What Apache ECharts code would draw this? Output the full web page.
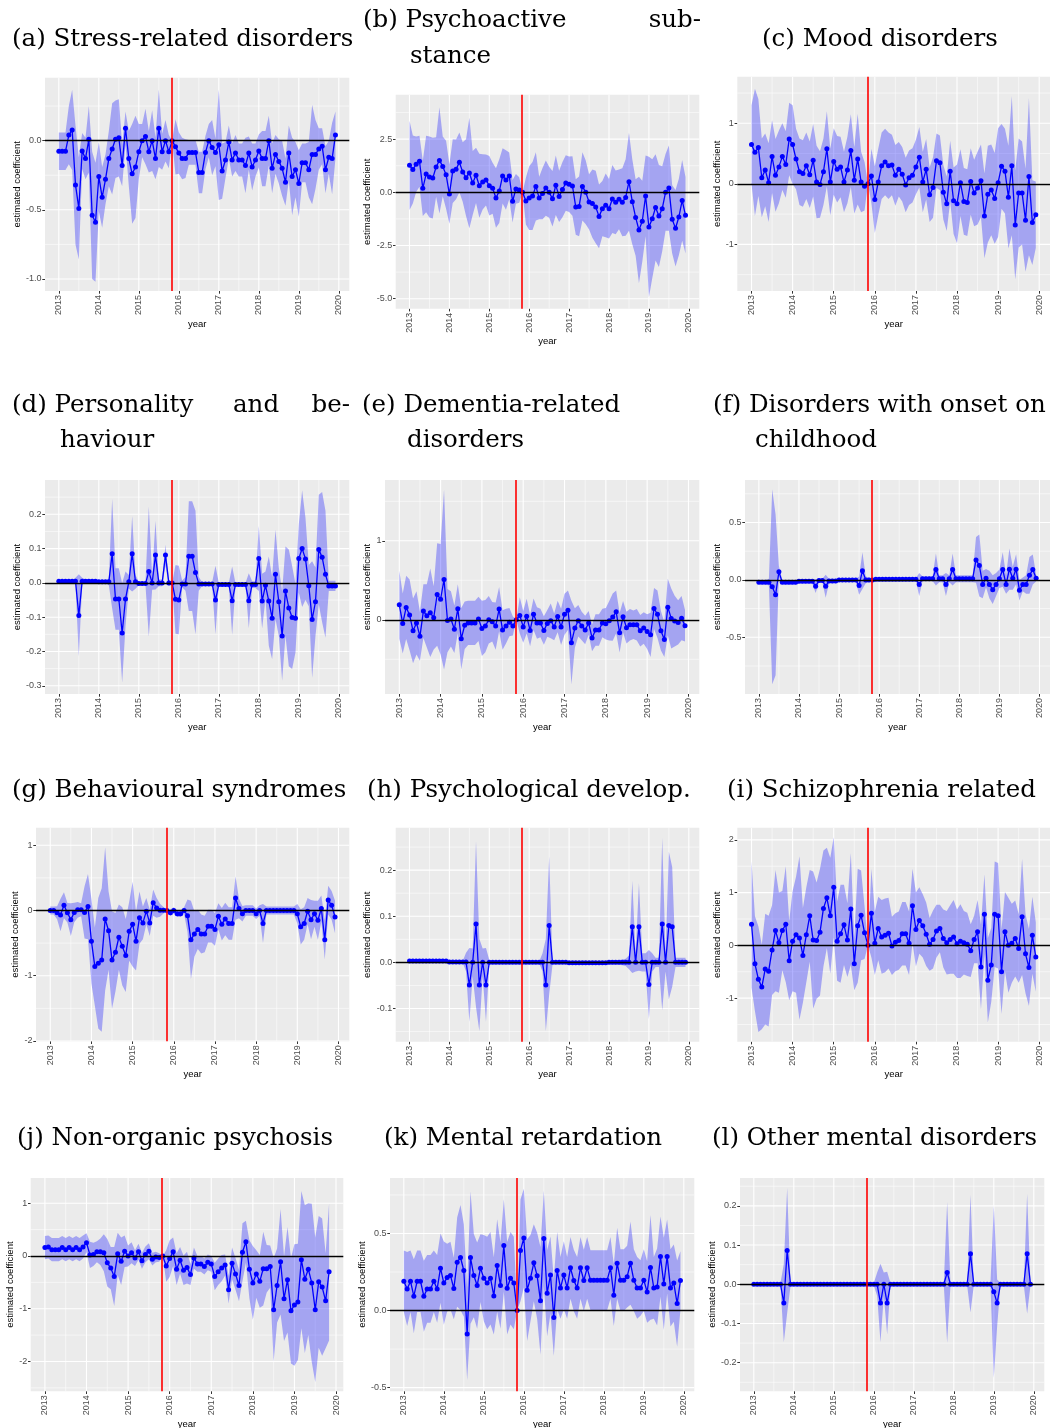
<!DOCTYPE html>
<html>
<head>
<meta charset="utf-8">
<script src="https://cdn.jsdelivr.net/npm/echarts@6/dist/echarts.min.js"></script>
<style>
  html, body { margin: 0; padding: 0; background: #ffffff; }
  #chart { width: 1059px; height: 1428px; }
</style>
</head>
<body>
<div id="chart"></div>
<script>
// ---- shared time axis ----
const startYear = 2013;                 // first monthly estimate (Jan 2013)
const yearTicks = [2013, 2014, 2015, 2016, 2017, 2018, 2019, 2020];
const yearLabels = ['2013', '2014', '2015', '2016', '2017', '2018', '2019', '2020'];
const breakDate = 2015.82;              // reform date (red line)

// ---- (a) Stress-related disorders ----
const stressEst = [
  -0.077, -0.077, -0.077, 0.04, 0.077, -0.32, -0.49, -0.075, -0.13, 0.01, -0.54, -0.59,
  -0.26, -0.41, -0.28, -0.13, -0.06, 0.01, 0.02, -0.18, 0.09, -0.13, -0.24, -0.19,
  -0.08, 0.0, 0.03, -0.08, 0.0, -0.13, 0.09, -0.08, 0.0, -0.08, 0.0, -0.045,
  -0.09, -0.13, -0.13, -0.085, -0.085, -0.085, -0.23, -0.23, -0.085, 0.0, -0.05, -0.085,
  -0.03, -0.22, -0.14, -0.01, -0.14, -0.09, -0.14, -0.14, -0.18, -0.09, -0.19, -0.14,
  -0.075, -0.13, -0.13, 0.0, -0.2, -0.1, -0.15, -0.2, -0.3, -0.09, -0.26, -0.21,
  -0.31, -0.16, -0.16, -0.21, -0.1, -0.1, -0.06, -0.04, -0.21, -0.12, -0.13, 0.04];
const stressMargin = [
  0.135, 0.135, 0.135, 0.21, 0.29, 0.43, 0.37, 0.13, 0.15, 0.24, 0.46, 0.43,
  0.25, 0.22, 0.18, 0.2, 0.33, 0.28, 0.28, 0.15, 0.12, 0.2, 0.36, 0.37,
  0.2, 0.12, 0.2, 0.15, 0.22, 0.15, 0.28, 0.13, 0.15, 0.12, 0.0, 0.2,
  0.15, 0.15, 0.14, 0.09, 0.09, 0.09, 0.15, 0.15, 0.12, 0.12, 0.2, 0.1,
  0.4, 0.2, 0.13, 0.12, 0.12, 0.13, 0.12, 0.12, 0.2, 0.12, 0.17, 0.12,
  0.12, 0.2, 0.2, 0.18, 0.18, 0.14, 0.16, 0.2, 0.17, 0.2, 0.28, 0.2,
  0.24, 0.14, 0.14, 0.2, 0.36, 0.25, 0.15, 0.13, 0.17, 0.12, 0.26, 0.17];
const stressTicks = ['-1.0', '-0.5', '0.0'];

// ---- (b) Psychoactive substance ----
const substanceEst = [
  1.27, 1.07, 1.32, 1.46, 0.19, 0.86, 0.72, 0.67, 1.19, 1.5, 1.22, 0.83,
  -0.08, 1.0, 1.08, 1.41, 0.96, 0.69, 0.91, 0.44, 0.8, 0.31, 0.49, 0.58,
  0.31, 0.19, -0.27, 0.06, 0.77, 0.58, 0.77, -0.42, 0.16, 0.11, 0.0, -0.41,
  -0.27, -0.17, 0.28, -0.27, -0.06, 0.2, 0.0, -0.3, 0.33, -0.19, 0.13, 0.44,
  0.38, 0.3, -0.69, -0.66, 0.28, 0.0, -0.45, -0.53, -0.69, -1.13, -0.77, -0.61,
  -0.77, -0.31, -0.47, -0.33, -0.47, -0.24, 0.5, -0.44, -1.18, -1.77, -1.36, -0.17,
  -1.63, -1.24, -0.71, -1.11, -0.77, 0.0, 0.2, -1.27, -1.69, -1.16, -0.38, -1.08];
const substanceMargin = [
  2.1, 1.6, 1.3, 1.2, 1.3, 1.8, 1.9, 1.9, 1.4, 2.5, 1.4, 1.6,
  1.4, 1.5, 1.4, 1.4, 1.4, 1.8, 2.6, 1.5, 1.3, 1.5, 1.3, 1.2,
  1.4, 1.2, 1.4, 1.5, 1.3, 1.4, 1.1, 1.0, 0.7, 0.6, 0.0, 1.1,
  1.5, 1.6, 1.6, 1.0, 1.2, 1.3, 1.2, 1.3, 1.4, 1.2, 1.3, 1.3,
  1.3, 1.4, 1.3, 1.4, 1.6, 1.5, 1.3, 1.6, 1.7, 1.5, 1.3, 1.5,
  1.4, 1.6, 1.5, 1.4, 1.6, 1.8, 2.3, 2.0, 1.8, 2.5, 1.9, 1.9,
  3.3, 2.8, 2.5, 2.4, 2.0, 1.8, 2.0, 1.6, 1.8, 1.8, 1.9, 1.8];
const substanceTicks = ['-5.0', '-2.5', '0.0', '2.5'];

// ---- (c) Mood disorders ----
const moodEst = [
  0.65, 0.52, 0.6, 0.1, 0.23, 0.02, 0.45, 0.14, 0.28, 0.45, 0.32, 0.74,
  0.65, 0.41, 0.2, 0.17, 0.3, 0.15, 0.39, 0.03, -0.01, 0.2, 0.58, 0.03,
  0.37, 0.24, 0.28, 0.03, 0.23, 0.55, 0.06, 0.41, 0.03, -0.04, 0.0, 0.13,
  -0.26, 0.03, 0.3, 0.36, 0.3, 0.31, 0.14, 0.24, 0.16, -0.02, 0.1, 0.14,
  0.28, 0.44, 0.03, 0.24, -0.18, -0.06, 0.38, 0.35, -0.14, -0.33, 0.21, -0.28,
  -0.33, 0.02, -0.29, -0.31, 0.04, -0.15, -0.07, 0.05, -0.53, -0.17, -0.1, -0.24,
  0.02, 0.29, 0.21, -0.22, 0.3, -0.68, -0.15, -0.15, -0.6, 0.12, -0.64, -0.51];
const moodMargin = [
  0.65, 1.05, 0.8, 0.65, 0.6, 0.65, 0.6, 0.6, 0.6, 0.55, 0.55, 0.6,
  0.65, 0.5, 0.55, 0.55, 0.55, 0.55, 0.6, 0.6, 0.55, 0.55, 0.62, 0.55,
  0.55, 0.55, 0.5, 0.5, 0.55, 0.6, 0.55, 0.75, 0.5, 0.4, 0.0, 0.45,
  0.55, 0.55, 0.55, 0.55, 0.55, 0.5, 0.5, 0.45, 0.45, 0.45, 0.45, 0.45,
  0.45, 0.5, 0.5, 0.5, 0.45, 0.5, 0.45, 0.45, 0.45, 0.45, 0.5, 0.55,
  0.65, 0.55, 0.55, 0.55, 0.55, 0.55, 0.6, 0.6, 0.7, 0.8, 0.75, 0.75,
  0.9, 0.7, 0.7, 0.85, 1.15, 0.9, 0.9, 0.85, 0.85, 1.3, 0.7, 0.55];
const moodTicks = ['-1', '0', '1'];

// ---- (d) Personality and behaviour ----
const personalityEst = [
  0.005, 0.005, 0.005, 0.005, 0.005, 0.005, -0.095, 0.005, 0.005, 0.005, 0.005, 0.005,
  0.003, 0.003, 0.003, 0.003, 0.085, -0.047, -0.047, -0.146, -0.047, 0.003, 0.085, 0.003,
  -0.002, -0.002, -0.002, 0.033, 0.0, 0.081, 0.0, 0.0, 0.081, 0.0, 0.0, -0.048,
  -0.05, -0.003, -0.003, 0.078, 0.078, 0.03, -0.003, -0.003, -0.003, -0.003, -0.003, -0.05,
  -0.005, -0.005, -0.005, -0.005, -0.052, -0.005, -0.005, -0.005, -0.005, -0.052, -0.005, -0.005,
  0.071, -0.053, -0.007, -0.053, -0.103, 0.025, -0.055, -0.155, -0.024, -0.073, -0.101, -0.103,
  0.071, 0.1, 0.07, -0.008, -0.107, -0.055, 0.097, 0.075, 0.025, -0.009, -0.009, -0.009];
const personalityMargin = [
  0.003, 0.003, 0.003, 0.003, 0.003, 0.01, 0.12, 0.01, 0.005, 0.005, 0.005, 0.005,
  0.003, 0.003, 0.003, 0.01, 0.16, 0.09, 0.09, 0.145, 0.08, 0.02, 0.11, 0.02,
  0.005, 0.005, 0.005, 0.19, 0.02, 0.1, 0.01, 0.01, 0.03, 0.01, 0.0, 0.1,
  0.1, 0.01, 0.02, 0.16, 0.16, 0.18, 0.02, 0.005, 0.005, 0.005, 0.005, 0.1,
  0.005, 0.005, 0.005, 0.005, 0.1, 0.005, 0.005, 0.005, 0.005, 0.08, 0.01, 0.01,
  0.095, 0.08, 0.04, 0.13, 0.12, 0.13, 0.1, 0.13, 0.13, 0.17, 0.15, 0.1,
  0.1, 0.17, 0.12, 0.06, 0.17, 0.1, 0.16, 0.19, 0.185, 0.015, 0.015, 0.015];
const personalityTicks = ['-0.3', '-0.2', '-0.1', '0.0', '0.1', '0.2'];

// ---- (e) Dementia-related disorders ----
const dementiaEst = [
  0.19, -0.046, 0.156, 0.06, -0.14, -0.04, -0.21, 0.11, 0.05, 0.09, 0.025, 0.32,
  0.26, 0.51, -0.01, 0.01, -0.12, 0.14, -0.24, -0.07, -0.04, -0.04, -0.04, 0.01,
  -0.11, -0.08, 0.0, -0.025, -0.08, 0.135, -0.13, -0.08, -0.03, -0.08, 0.0, 0.055,
  -0.09, 0.046, -0.135, 0.07, -0.04, -0.04, -0.135, -0.046, -0.013, -0.09, 0.042, -0.09,
  0.07, 0.12, -0.29, -0.105, -0.013, -0.08, -0.13, -0.04, -0.23, -0.13, -0.13, -0.04,
  -0.05, -0.013, 0.034, 0.1, -0.165, 0.038, -0.1, -0.063, -0.063, -0.063, -0.14, -0.105,
  -0.15, -0.19, 0.143, 0.07, -0.14, -0.25, 0.16, 0.017, -0.017, -0.034, 0.02, -0.076];
const dementiaMargin = [
  0.43, 0.38, 0.4, 0.45, 0.41, 0.4, 0.31, 0.34, 0.4, 0.56, 0.4, 0.65,
  0.7, 1.14, 0.4, 0.35, 0.3, 0.31, 0.39, 0.3, 0.28, 0.28, 0.28, 0.28,
  0.35, 0.33, 0.3, 0.25, 0.3, 0.28, 0.25, 0.22, 0.18, 0.12, 0.0, 0.23,
  0.2, 0.22, 0.2, 0.2, 0.2, 0.18, 0.18, 0.17, 0.22, 0.17, 0.2, 0.23,
  0.26, 0.25, 0.53, 0.25, 0.2, 0.18, 0.18, 0.15, 0.17, 0.2, 0.2, 0.18,
  0.2, 0.25, 0.3, 0.27, 0.25, 0.2, 0.2, 0.2, 0.18, 0.2, 0.2, 0.2,
  0.22, 0.28, 0.26, 0.3, 0.25, 0.22, 0.36, 0.38, 0.32, 0.28, 0.28, 0.2];
const dementiaTicks = ['0', '1'];

// ---- (f) Disorders with onset on childhood ----
const childhoodEst = [
  -0.02, -0.02, -0.02, -0.02, -0.06, -0.13, 0.07, -0.02, -0.02, -0.02, -0.02, -0.02,
  -0.012, -0.012, -0.012, -0.012, -0.012, -0.055, -0.006, -0.006, -0.055, -0.01, -0.01, -0.01,
  -0.002, -0.002, -0.002, -0.002, -0.002, -0.002, -0.05, 0.08, 0.0, 0.0, 0.0, 0.005,
  0.005, 0.005, 0.005, 0.005, 0.005, 0.005, 0.005, 0.005, 0.005, 0.005, 0.005, 0.005,
  -0.04, 0.01, 0.01, 0.01, 0.01, 0.09, 0.01, 0.01, -0.04, 0.01, 0.09, 0.01,
  0.01, 0.01, 0.01, 0.01, 0.01, 0.174, 0.125, -0.04, 0.015, -0.04, -0.085, -0.04,
  0.01, 0.09, -0.04, 0.093, 0.015, 0.093, -0.09, -0.04, -0.04, 0.04, 0.09, 0.015];
const childhoodMargin = [
  0.02, 0.02, 0.02, 0.03, 0.85, 0.7, 0.05, 0.02, 0.02, 0.02, 0.02, 0.02,
  0.02, 0.02, 0.02, 0.02, 0.02, 0.06, 0.015, 0.015, 0.1, 0.02, 0.02, 0.02,
  0.01, 0.01, 0.01, 0.01, 0.01, 0.01, 0.08, 0.16, 0.03, 0.02, 0.0, 0.01,
  0.01, 0.01, 0.01, 0.01, 0.01, 0.01, 0.01, 0.01, 0.01, 0.01, 0.01, 0.01,
  0.1, 0.02, 0.02, 0.02, 0.02, 0.14, 0.03, 0.03, 0.1, 0.03, 0.14, 0.03,
  0.03, 0.03, 0.03, 0.03, 0.03, 0.2, 0.27, 0.12, 0.08, 0.12, 0.125, 0.1,
  0.08, 0.15, 0.08, 0.18, 0.1, 0.13, 0.09, 0.06, 0.08, 0.16, 0.13, 0.03];
const childhoodTicks = ['-0.5', '0.0', '0.5'];

// ---- (g) Behavioural syndromes ----
const behaviouralEst = [
  0.0, 0.0, -0.035, -0.07, 0.08, -0.035, -0.14, -0.03, 0.01, 0.01, -0.03, 0.06,
  -0.47, -0.86, -0.81, -0.76, -0.13, -0.31, -0.76, -0.64, -0.41, -0.55, -0.69, -0.32,
  -0.21, -0.47, -0.11, -0.19, -0.01, -0.19, 0.12, 0.04, 0.005, 0.005, 0.0, -0.035,
  0.0, -0.05, -0.05, 0.0, -0.08, -0.45, -0.36, -0.29, -0.36, -0.36, -0.24, -0.24,
  -0.29, -0.09, -0.21, -0.13, -0.2, -0.2, 0.19, 0.03, -0.05, 0.0, 0.0, 0.0,
  -0.05, 0.0, -0.2, 0.0, 0.0, 0.0, 0.0, 0.0, 0.0, 0.0, 0.0, 0.0,
  -0.05, -0.25, -0.2, -0.01, -0.14, -0.05, -0.15, 0.03, -0.45, 0.16, 0.08, -0.1];
const behaviouralMargin = [
  0.06, 0.06, 0.1, 0.25, 0.2, 0.15, 0.25, 0.15, 0.12, 0.1, 0.4, 0.5,
  0.65, 0.6, 1.0, 1.1, 1.1, 0.6, 0.75, 0.6, 0.5, 0.6, 0.56, 0.45,
  0.65, 0.45, 0.4, 0.25, 0.2, 0.2, 0.2, 0.15, 0.1, 0.05, 0.0, 0.05,
  0.05, 0.05, 0.05, 0.05, 0.25, 0.6, 0.35, 0.3, 0.3, 0.28, 0.25, 0.25,
  0.25, 0.2, 0.25, 0.25, 0.25, 0.25, 0.33, 0.15, 0.12, 0.08, 0.08, 0.08,
  0.08, 0.08, 0.3, 0.06, 0.06, 0.06, 0.06, 0.06, 0.06, 0.06, 0.06, 0.06,
  0.15, 0.27, 0.25, 0.2, 0.3, 0.2, 0.3, 0.2, 0.3, 0.22, 0.22, 0.25];
const behaviouralTicks = ['-2', '-1', '0', '1'];

// ---- (h) Psychological development ----
const developEst = [
  0.003, 0.003, 0.003, 0.003, 0.003, 0.003, 0.003, 0.003, 0.003, 0.003, 0.003, 0.003,
  0.001, 0.001, 0.001, 0.001, 0.001, 0.001, -0.049, 0.0, 0.083, -0.049, 0.0, -0.049,
  0.0, 0.0, 0.0, 0.0, 0.0, 0.0, 0.0, 0.0, 0.0, 0.0, 0.0, 0.0,
  0.0, 0.0, 0.0, 0.0, 0.0, -0.049, 0.08, 0.0, 0.0, 0.0, 0.0, 0.0,
  -0.001, -0.001, -0.001, -0.001, -0.001, -0.001, -0.001, -0.001, -0.001, -0.001, -0.001, -0.001,
  0.0, 0.0, 0.0, 0.0, 0.0, 0.0, 0.0, 0.077, 0.0, 0.077, 0.0, 0.0,
  -0.048, 0.0, 0.0, 0.0, 0.083, 0.0, 0.08, 0.077, 0.0, 0.0, 0.0, 0.0];
const developMargin = [
  0.003, 0.003, 0.003, 0.003, 0.003, 0.003, 0.003, 0.003, 0.003, 0.003, 0.003, 0.003,
  0.002, 0.002, 0.002, 0.002, 0.002, 0.02, 0.08, 0.03, 0.18, 0.1, 0.03, 0.08,
  0.005, 0.002, 0.002, 0.002, 0.002, 0.002, 0.002, 0.002, 0.002, 0.002, 0.0, 0.002,
  0.002, 0.002, 0.002, 0.002, 0.02, 0.1, 0.15, 0.005, 0.002, 0.002, 0.002, 0.002,
  0.003, 0.003, 0.003, 0.003, 0.003, 0.003, 0.003, 0.003, 0.003, 0.003, 0.003, 0.003,
  0.005, 0.005, 0.005, 0.005, 0.006, 0.008, 0.015, 0.1, 0.02, 0.095, 0.02, 0.02,
  0.075, 0.02, 0.01, 0.01, 0.187, 0.02, 0.16, 0.13, 0.01, 0.01, 0.01, 0.01];
const developTicks = ['-0.1', '0.0', '0.1', '0.2'];

// ---- (i) Schizophrenia related ----
const schizoEst = [
  0.4, -0.35, -0.64, -0.79, -0.45, -0.49, -0.09, 0.28, 0.05, 0.28, 0.4, -0.29,
  0.08, 0.2, 0.14, -0.19, 0.2, 0.56, 0.1, 0.09, 0.25, 0.7, 0.9, 0.56,
  1.1, 0.08, 0.22, 0.39, 0.1, 0.69, -0.35, 0.37, 0.57, 0.24, 0.0, 0.61,
  0.04, 0.32, 0.16, 0.19, 0.23, -0.01, 0.06, 0.09, 0.22, 0.22, 0.04, 0.75,
  0.3, 0.47, 0.37, 0.21, 0.02, 0.11, 0.27, 0.32, 0.13, 0.05, 0.11, 0.16,
  0.03, 0.08, 0.05, 0.02, -0.1, 0.11, 0.26, -0.41, 0.59, -0.66, -0.37, 0.59,
  0.56, -0.5, 0.26, 0.0, 0.04, 0.13, -0.06, 0.54, -0.16, -0.42, 0.19, -0.22];
const schizoMargin = [
  1.2, 0.9, 1.0, 0.8, 1.05, 1.05, 0.85, 1.15, 0.95, 0.75, 1.1, 0.75,
  0.95, 1.1, 1.55, 0.9, 0.9, 0.87, 1.3, 1.1, 1.2, 1.1, 0.95, 1.1,
  0.95, 0.75, 0.93, 0.76, 0.7, 1.06, 0.5, 1.08, 0.85, 0.5, 0.0, 0.84,
  0.6, 0.6, 0.7, 0.7, 0.67, 0.55, 0.55, 0.55, 0.6, 0.6, 0.6, 0.7,
  0.7, 0.63, 0.6, 0.6, 0.5, 0.55, 0.5, 0.45, 0.55, 0.6, 0.65, 0.7,
  0.65, 0.7, 0.6, 0.6, 0.5, 0.45, 0.6, 0.8, 0.76, 0.8, 0.7, 1.0,
  1.0, 0.8, 0.75, 0.9, 0.75, 0.72, 0.65, 1.1, 0.75, 0.73, 0.73, 0.66];
const schizoTicks = ['-1', '0', '1', '2'];

// ---- (j) Non-organic psychosis (series ends Nov 2019) ----
const psychosisEst = [
  0.16, 0.17, 0.12, 0.12, 0.12, 0.16, 0.12, 0.16, 0.12, 0.16, 0.12, 0.17,
  0.25, 0.02, 0.03, 0.08, 0.08, 0.06, -0.13, -0.23, -0.39, 0.04, -0.1, 0.09,
  0.0, 0.06, -0.04, 0.08, -0.09, 0.03, 0.09, -0.06, -0.02, -0.03, 0.0, -0.19,
  -0.05, 0.08, -0.25, -0.08, -0.27, -0.22, -0.35, -0.04, -0.15, -0.15, -0.2, -0.12,
  -0.15, -0.39, -0.3, -0.23, -0.17, -0.64, -0.14, -0.34, -0.56, 0.07, 0.27, -0.25,
  -0.51, -0.34, -0.48, -0.24, -0.24, -0.2, -1.02, -0.56, -0.11, -0.81, -0.45, -1.04,
  -0.93, -0.87, -0.07, -0.44, -0.25, -0.51, -1.02, -0.49, -0.59, -0.85, -0.3];
const psychosisMargin = [
  0.22, 0.22, 0.22, 0.22, 0.22, 0.22, 0.22, 0.22, 0.22, 0.22, 0.22, 0.22,
  0.18, 0.25, 0.22, 0.2, 0.25, 0.35, 0.45, 0.4, 0.56, 0.4, 0.45, 0.3,
  0.2, 0.2, 0.15, 0.15, 0.15, 0.15, 0.15, 0.12, 0.1, 0.08, 0.0, 0.3,
  0.35, 0.27, 0.3, 0.25, 0.28, 0.3, 0.2, 0.2, 0.15, 0.15, 0.15, 0.15,
  0.15, 0.26, 0.25, 0.25, 0.2, 0.26, 0.3, 0.3, 0.3, 0.55, 0.4, 0.55,
  0.7, 0.45, 0.5, 0.7, 0.45, 0.4, 0.98, 0.7, 1.0, 0.8, 1.0, 1.0,
  1.15, 1.1, 1.3, 1.4, 1.25, 1.5, 1.37, 1.25, 1.3, 0.9, 1.3];
const psychosisTicks = ['-2', '-1', '0', '1'];

// ---- (k) Mental retardation ----
const retardationEst = [
  0.19, 0.14, 0.19, 0.093, 0.19, 0.19, 0.093, 0.14, 0.14, 0.19, 0.14, 0.275,
  0.178, 0.214, 0.227, 0.143, 0.314, 0.344, 0.26, -0.152, 0.344, 0.227, 0.162, 0.275,
  0.21, 0.178, 0.21, 0.095, 0.292, 0.162, 0.422, 0.145, 0.21, 0.178, 0.0, 0.39,
  0.47, 0.132, 0.21, 0.31, 0.225, 0.063, 0.467, 0.113, 0.23, -0.045, 0.26, 0.147,
  0.23, 0.147, 0.277, 0.195, 0.147, 0.277, 0.195, 0.277, 0.197, 0.197, 0.197, 0.197,
  0.197, 0.197, 0.277, 0.1, 0.307, 0.197, 0.197, 0.22, 0.307, 0.197, 0.147, 0.147,
  0.197, 0.12, 0.28, 0.147, 0.153, 0.35, 0.173, 0.35, 0.147, 0.178, 0.045, 0.195];
const retardationMargin = [
  0.2, 0.24, 0.2, 0.24, 0.2, 0.2, 0.23, 0.22, 0.22, 0.2, 0.22, 0.225,
  0.27, 0.22, 0.22, 0.2, 0.29, 0.34, 0.3, 0.3, 0.43, 0.27, 0.28, 0.22,
  0.28, 0.3, 0.3, 0.25, 0.3, 0.28, 0.3, 0.3, 0.3, 0.3, 0.0, 0.33,
  0.32, 0.33, 0.28, 0.25, 0.28, 0.35, 0.31, 0.28, 0.25, 0.25, 0.25, 0.2,
  0.22, 0.2, 0.2, 0.2, 0.2, 0.2, 0.2, 0.2, 0.195, 0.195, 0.195, 0.195,
  0.195, 0.195, 0.2, 0.2, 0.23, 0.2, 0.2, 0.2, 0.27, 0.2, 0.2, 0.18,
  0.2, 0.2, 0.34, 0.2, 0.25, 0.26, 0.3, 0.24, 0.25, 0.25, 0.28, 0.19];
const retardationTicks = ['-0.5', '0.0', '0.5'];

// ---- (l) Other mental disorders ----
const otherEst = [
  0.0, 0.0, 0.0, 0.0, 0.0, 0.0, 0.0, 0.0, 0.0, -0.048, 0.086, 0.0,
  0.0, 0.0, 0.0, 0.0, 0.0, 0.0, 0.0, 0.0, 0.0, 0.0, 0.0, 0.0,
  0.0, 0.0, 0.0, 0.0, 0.0, 0.0, 0.0, 0.0, 0.0, 0.0, 0.0, 0.0,
  0.0, 0.0, -0.048, 0.0, -0.048, 0.0, 0.0, 0.0, 0.0, 0.0, 0.0, 0.0,
  0.0, 0.0, 0.0, 0.0, 0.0, 0.0, 0.0, 0.0, 0.0, 0.0, 0.03, 0.0,
  0.0, 0.0, 0.0, 0.0, 0.0, 0.078, 0.0, 0.0, 0.0, 0.0, 0.0, 0.0,
  -0.019, -0.048, 0.0, 0.0, 0.0, 0.0, 0.0, 0.0, 0.0, 0.0, 0.078, 0.0];
const otherMargin = [
  0.003, 0.003, 0.003, 0.003, 0.003, 0.003, 0.003, 0.003, 0.003, 0.1, 0.16, 0.005,
  0.003, 0.003, 0.003, 0.003, 0.003, 0.003, 0.003, 0.003, 0.003, 0.003, 0.003, 0.003,
  0.003, 0.003, 0.003, 0.003, 0.003, 0.003, 0.003, 0.003, 0.003, 0.003, 0.0, 0.003,
  0.003, 0.03, 0.1, 0.03, 0.08, 0.003, 0.003, 0.003, 0.003, 0.003, 0.003, 0.003,
  0.003, 0.003, 0.003, 0.003, 0.003, 0.003, 0.003, 0.003, 0.003, 0.003, 0.18, 0.003,
  0.003, 0.003, 0.003, 0.003, 0.003, 0.15, 0.003, 0.003, 0.003, 0.003, 0.003, 0.003,
  0.22, 0.06, 0.003, 0.003, 0.003, 0.003, 0.003, 0.003, 0.003, 0.003, 0.153, 0.003];
const otherTicks = ['-0.2', '-0.1', '0.0', '0.1', '0.2'];

// ---- panel layout: plot box [left, top, right, bottom] in px, y-range, y-title gap ----
const panels = [
  { est: stressEst,       margin: stressMargin,       ticks: stressTicks,       box: [45, 77.7, 349.3, 291],      y: [-1.087, 0.455], gap: 20.5 },
  { est: substanceEst,    margin: substanceMargin,    ticks: substanceTicks,    box: [395.7, 94.7, 699.3, 308.7], y: [-5.47, 4.59],   gap: 21 },
  { est: moodEst,         margin: moodMargin,         ticks: moodTicks,         box: [737.3, 76.7, 1050, 291],    y: [-1.77, 1.77],   gap: 13 },
  { est: personalityEst,  margin: personalityMargin,  ticks: personalityTicks,  box: [45, 480, 349.3, 694],       y: [-0.324, 0.30],  gap: 20.5 },
  { est: dementiaEst,     margin: dementiaMargin,     ticks: dementiaTicks,     box: [385, 480, 699.3, 694],      y: [-0.94, 1.77],   gap: 10.5 },
  { est: childhoodEst,    margin: childhoodMargin,    ticks: childhoodTicks,    box: [745, 480, 1050, 694],       y: [-0.994, 0.87],  gap: 20.5 },
  { est: behaviouralEst,  margin: behaviouralMargin,  ticks: behaviouralTicks,  box: [36, 827.7, 349.3, 1041.3],  y: [-2.005, 1.269], gap: 11.5 },
  { est: developEst,      margin: developMargin,      ticks: developTicks,      box: [395.7, 827.7, 699.3, 1041.7], y: [-0.172, 0.292], gap: 21 },
  { est: schizoEst,       margin: schizoMargin,       ticks: schizoTicks,       box: [737.3, 827.7, 1050, 1041.7], y: [-1.826, 2.23], gap: 13 },
  { est: psychosisEst,    margin: psychosisMargin,    ticks: psychosisTicks,    box: [30.7, 1178, 343.3, 1391.3], y: [-2.565, 1.478], gap: 11.5 },
  { est: retardationEst,  margin: retardationMargin,  ticks: retardationTicks,  box: [390, 1178, 694.3, 1391.3],  y: [-0.524, 0.86],  gap: 20.5 },
  { est: otherEst,        margin: otherMargin,        ticks: otherTicks,        box: [740, 1178, 1044.3, 1391.3], y: [-0.273, 0.271], gap: 20.5 }
];

// ---- panel headings (pieces of justified lines placed individually) ----
const headings = [
  { text: '(a) Stress-related disorders', x: 12, y: 40 },
  { text: '(b) Psychoactive', x: 363, y: 21 },
  { text: 'sub-', x: 701, y: 21, align: 'right' },
  { text: 'stance', x: 410, y: 57 },
  { text: '(c) Mood disorders', x: 762, y: 40 },
  { text: '(d) Personality', x: 12, y: 406 },
  { text: 'and', x: 233, y: 406 },
  { text: 'be-', x: 350, y: 406, align: 'right' },
  { text: 'haviour', x: 60, y: 441 },
  { text: '(e) Dementia-related', x: 362, y: 406 },
  { text: 'disorders', x: 407, y: 441 },
  { text: '(f) Disorders with onset on', x: 713, y: 406 },
  { text: 'childhood', x: 755, y: 441 },
  { text: '(g) Behavioural syndromes', x: 12, y: 791 },
  { text: '(h) Psychological develop.', x: 367, y: 791 },
  { text: '(i) Schizophrenia related', x: 727, y: 791 },
  { text: '(j) Non-organic psychosis', x: 17, y: 1139 },
  { text: '(k) Mental retardation', x: 384, y: 1139 },
  { text: '(l) Other mental disorders', x: 712, y: 1139 }
];

const SANS = 'Liberation Sans, Arial, sans-serif';
const SERIF = 'DejaVu Serif, serif';
const BAND = 'rgba(0,0,255,0.3)';

const option = {
  animation: false,
  backgroundColor: '#ffffff',
  grid: [], xAxis: [], yAxis: [], series: [],
  graphic: headings.map(h => ({
    type: 'text', x: h.x, y: h.y, silent: true,
    style: { text: h.text, fontFamily: SERIF, fontSize: 24.5, fill: '#000000',
             align: h.align || 'left', verticalAlign: 'middle' }
  }))
};

panels.forEach((p, i) => {
  const n = p.est.length;
  const xs = p.est.map((_, k) => startYear + k / 12);
  const span = (n - 1) / 12;
  const xMin = startYear - 0.05 * span;
  const xMax = startYear + span * 1.05;
  const [yMin, yMax] = p.y;
  const yVals = p.ticks.map(Number);
  const lo = p.est.map((v, k) => v - p.margin[k]);
  const hi = p.est.map((v, k) => v + p.margin[k]);

  // minor grid lines sit halfway between major breaks (and one half-step beyond)
  const yStep = yVals.length > 1 ? yVals[1] - yVals[0] : 1;
  const yMinor = [];
  for (let k = -1; k < yVals.length; k++) {
    const v = (k < 0 ? yVals[0] - yStep / 2 : yVals[k] + yStep / 2);
    if (v > yMin && v < yMax) yMinor.push(v);
  }
  const xMajor = yearTicks.filter(v => v >= xMin && v <= xMax);
  const xMinor = yearTicks.map(v => v + 0.5).filter(v => v > xMin && v < xMax);

  option.grid.push({
    left: p.box[0], top: p.box[1], width: p.box[2] - p.box[0], height: p.box[3] - p.box[1],
    show: true, backgroundColor: '#EBEBEB', borderWidth: 0, containLabel: false, outerBoundsMode: 'none'
  });

  option.xAxis.push({
    type: 'value', gridIndex: i, min: xMin, max: xMax,
    name: 'year', nameLocation: 'middle', nameGap: 26,
    nameTextStyle: { fontFamily: SANS, fontSize: 9.5, color: '#000000' },
    axisLine: { show: false, onZero: false },
    axisTick: { show: true, length: 2.7, customValues: yearTicks, lineStyle: { color: '#333333', width: 1 } },
    axisLabel: {
      show: true, rotate: 90, margin: 4, fontFamily: SANS, fontSize: 9, color: '#4D4D4D',
      customValues: yearTicks,
      formatter: v => yearLabels[yearTicks.indexOf(Math.round(v))] || ''
    },
    splitLine: { show: false }, minorSplitLine: { show: false }
  });

  option.yAxis.push({
    type: 'value', gridIndex: i, min: yMin, max: yMax,
    name: 'estimated coefficient', nameLocation: 'middle', nameGap: p.gap,
    nameTextStyle: { fontFamily: SANS, fontSize: 9.5, color: '#000000' },
    axisLine: { show: false, onZero: false },
    axisTick: { show: true, length: 2.7, customValues: yVals, lineStyle: { color: '#333333', width: 1 } },
    axisLabel: {
      show: true, margin: 3.5, fontFamily: SANS, fontSize: 9, color: '#4D4D4D',
      customValues: yVals,
      formatter: v => {
        let best = 0;
        yVals.forEach((t, k) => { if (Math.abs(t - v) < Math.abs(yVals[best] - v)) best = k; });
        return p.ticks[best];
      }
    },
    splitLine: { show: false }, minorSplitLine: { show: false }
  });

  // white panel grid (major + minor)
  const gridRows = []
    .concat(xMinor.map(v => [0, v, 0]))
    .concat(yMinor.map(v => [1, v, 0]))
    .concat(xMajor.map(v => [0, v, 1]))
    .concat(yVals.map(v => [1, v, 1]));
  option.series.push({
    type: 'custom', xAxisIndex: i, yAxisIndex: i, silent: true, z: 1, clip: true,
    encode: { x: -1, y: -1 },
    data: gridRows,
    renderItem: (params, api) => {
      const row = gridRows[params.dataIndex];
      const a = row[0] === 0 ? api.coord([row[1], yMin]) : api.coord([xMin, row[1]]);
      const b = row[0] === 0 ? api.coord([row[1], yMax]) : api.coord([xMax, row[1]]);
      return {
        type: 'line', silent: true,
        shape: { x1: a[0], y1: a[1], x2: b[0], y2: b[1] },
        style: { stroke: '#FFFFFF', lineWidth: row[2] ? 1.1 : 0.55 }
      };
    }
  });

  // confidence ribbon
  option.series.push({
    type: 'custom', xAxisIndex: i, yAxisIndex: i, silent: true, z: 2, clip: true,
    encode: { x: 0, y: 1 },
    data: [[xs[0], p.est[0]]],
    renderItem: (params, api) => {
      const pts = [];
      for (let k = 0; k < n; k++) pts.push(api.coord([xs[k], hi[k]]));
      for (let k = n - 1; k >= 0; k--) pts.push(api.coord([xs[k], lo[k]]));
      return { type: 'polygon', silent: true, shape: { points: pts }, style: { fill: BAND } };
    }
  });

  // monthly estimates + reference lines
  option.series.push({
    type: 'line', xAxisIndex: i, yAxisIndex: i, silent: true, z: 3,
    data: xs.map((x, k) => [x, p.est[k]]),
    symbol: 'circle', symbolSize: 5, showSymbol: true, showAllSymbol: true,
    itemStyle: { color: '#0000FF' },
    lineStyle: { color: '#0000FF', width: 1.3 },
    markLine: {
      silent: true, symbol: ['none', 'none'], animation: false, z: 10,
      label: { show: false },
      data: [
        { yAxis: 0, lineStyle: { color: '#000000', width: 1.4, type: 'solid' } },
        { xAxis: breakDate, lineStyle: { color: '#FF0000', width: 1.6, type: 'solid' } }
      ]
    }
  });
});

const chart = echarts.init(document.getElementById('chart'), null, { renderer: 'canvas' });
chart.setOption(option);
</script>
</body>
</html>
